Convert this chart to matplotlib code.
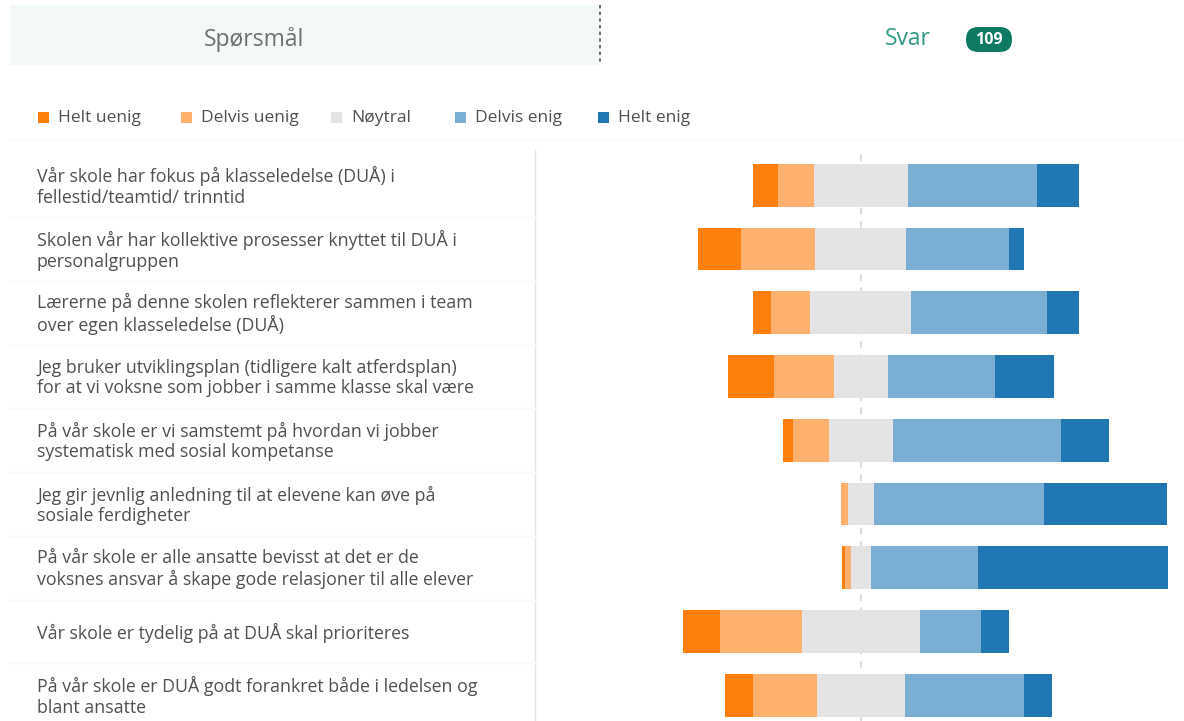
import matplotlib.pyplot as plt
import matplotlib.transforms as mtransforms
from matplotlib.patches import Rectangle, FancyBboxPatch
import numpy as np

plt.rcParams['font.family'] = ['Open Sans', 'DejaVu Sans']

# data (prosent av svar, n = 109)
kategorier = ['Helt uenig', 'Delvis uenig', 'Nøytral', 'Delvis enig', 'Helt enig']
farger = ['#ff7f0e', '#ffb06e', '#e4e4e4', '#7aaed3', '#2077b4']
sporsmal = [
    'Vår skole har fokus på klasseledelse (DUÅ) i\nfellestid/teamtid/ trinntid',
    'Skolen vår har kollektive prosesser knyttet til DUÅ i\npersonalgruppen',
    'Lærerne på denne skolen reflekterer sammen i team\nover egen klasseledelse (DUÅ)',
    'Jeg bruker utviklingsplan (tidligere kalt atferdsplan)\nfor at vi voksne som jobber i samme klasse skal være',
    'På vår skole er vi samstemt på hvordan vi jobber\nsystematisk med sosial kompetanse',
    'Jeg gir jevnlig anledning til at elevene kan øve på\nsosiale ferdigheter',
    'På vår skole er alle ansatte bevisst at det er de\nvoksnes ansvar å skape gode relasjoner til alle elever',
    'Vår skole er tydelig på at DUÅ skal prioriteres',
    'På vår skole er DUÅ godt forankret både i ledelsen og\nblant ansatte',
]
helt_uenig = [7.6, 13.1, 5.5, 14.0, 3.1, 0.0, 1.0, 11.2, 8.6]
delvis_uenig = [11.0, 22.9, 12.0, 18.5, 10.8, 2.1, 2.0, 25.3, 19.5]
noytral = [28.8, 27.9, 31.0, 16.5, 19.9, 7.8, 5.9, 36.1, 27.2]
delvis_enig = [39.5, 31.6, 41.5, 33.0, 51.5, 52.1, 32.9, 18.8, 36.4]
helt_enig = [13.1, 4.5, 10.0, 18.0, 14.7, 38.0, 58.2, 8.6, 8.5]
antall_svar = 109

W, H = 1184, 721
fig = plt.figure(figsize=(W / 100, H / 100), dpi=100)
fig.patch.set_facecolor('white')

def fx(px):
    return px / W

def fy(py):
    return 1 - py / H

# header
fig.patches.append(Rectangle((fx(10), fy(65)), fx(590), (60) / H, transform=fig.transFigure,
                             facecolor='#f3f8f8', edgecolor='none', zorder=0))
fig.add_artist(plt.Line2D([fx(600), fx(600)], [fy(5), fy(65)], transform=fig.transFigure,
                          color='#555555', lw=1.2, ls=(0, (2, 2))))
fig.text(fx(254), fy(39), 'Spørsmål', ha='center', va='center', fontsize=16.5, color='#707070')
fig.text(fx(908), fy(39), 'Svar', ha='center', va='center', fontsize=16.5, color='#2f9a86')
fig.patches.append(FancyBboxPatch((fx(966), fy(52)), fx(46), 25 / H, transform=fig.transFigure,
                                  boxstyle='round,pad=0,rounding_size=0.0105',
                                  facecolor='#0e7a63', edgecolor='none', mutation_aspect=W / H))
fig.text(fx(989), fy(40), str(antall_svar), ha='center', va='center', fontsize=11.5,
         color='white', fontweight='bold')

# legende
leg_x = [38, 181, 331, 455, 598]
for i, k in enumerate(kategorier):
    fig.patches.append(Rectangle((fx(leg_x[i]), fy(123)), fx(11), 11 / H, transform=fig.transFigure,
                                 facecolor=farger[i], edgecolor='none'))
    fig.text(fx(leg_x[i] + 20), fy(118), k, ha='left', va='center', fontsize=12.5, color='#505050')
fig.add_artist(plt.Line2D([fx(10), fx(1184)], [fy(140), fy(140)], transform=fig.transFigure,
                          color='#f8f8f8', lw=1))

# diagram
ax = fig.add_axes([fx(535), 0, 1 - fx(535), fy(150)])
verdier = np.array([helt_uenig, delvis_uenig, noytral, delvis_enig, helt_enig])
y = np.arange(len(sporsmal))
venstre = -(verdier[0] + verdier[1] + verdier[2] / 2)
for i in range(len(kategorier)):
    ax.barh(y, verdier[i], left=venstre, height=0.67, color=farger[i], edgecolor='none', zorder=2)
    venstre = venstre + verdier[i]

ax.axvline(0, color='#d6d6d6', lw=1.2, ls=(0, (4, 4)), zorder=1)
ax.set_xlim(-100, 99.1)
ax.set_ylim(8.403, -0.554)
ax.set_xticks([])
ax.set_yticks([])
for s in ['top', 'right', 'bottom']:
    ax.spines[s].set_visible(False)
ax.spines['left'].set_color('#e6e6e6')
ax.spines['left'].set_linewidth(1)

# sporsmal-tekster
trans = mtransforms.blended_transform_factory(fig.transFigure, ax.transData)
for i, s in enumerate(sporsmal):
    fig.text(fx(37), y[i] + 0.02, s, transform=trans, ha='left', va='center', fontsize=12.8,
             color='#505050', linespacing=1.18)
for i in range(1, len(sporsmal)):
    fig.add_artist(plt.Line2D([fx(10), fx(535)], [i - 0.5, i - 0.5], transform=trans,
                              color='#f9f9f9', lw=1))

fig.savefig('out.png', dpi=100)
